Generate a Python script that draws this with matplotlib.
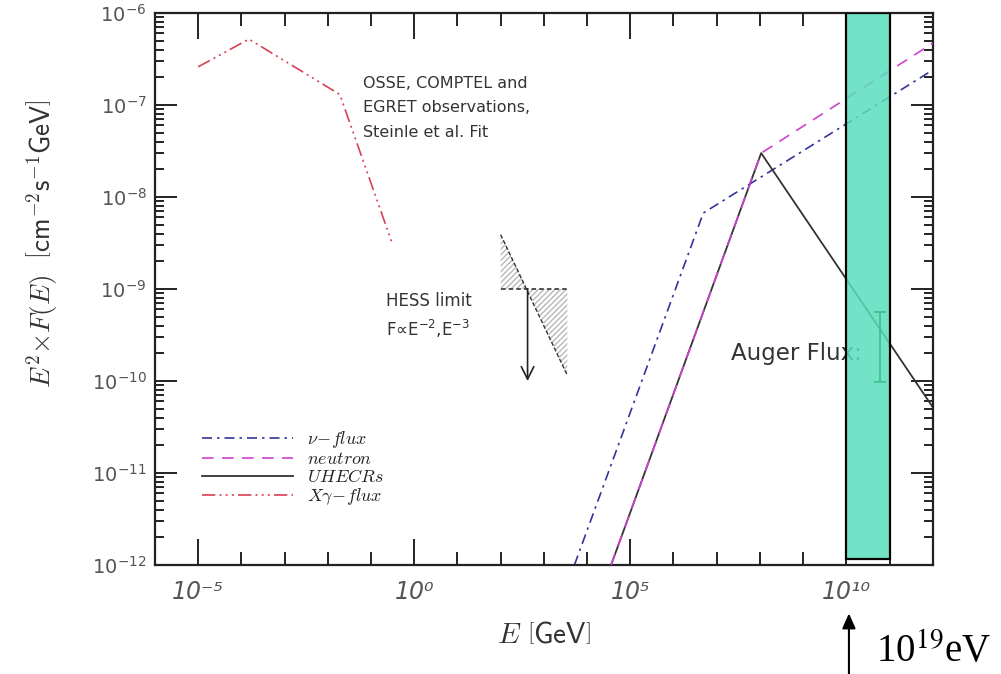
import numpy as np
import matplotlib.pyplot as plt
from matplotlib.ticker import FixedLocator, LogLocator, FuncFormatter, NullFormatter
from matplotlib.font_manager import FontProperties

# --- spectra (E in GeV, E^2 F(E) in cm^-2 s^-1 GeV) ---
xg_E = [1e-5, 1.5e-4, 1.9e-2, 0.32]
xg_F = [2.6e-7, 5.2e-7, 1.3e-7, 3e-9]

nu_E = [5.1e3, 4.9e6, 1e12]
nu_F = [1e-12, 6.7e-9, 2.4e-7]

n_E = [3.6e4, 1.07e8, 1e12]
n_F = [1e-12, 3e-8, 4.7e-7]

cr_E = [3.6e4, 1.07e8, 1e12]
cr_F = [1e-12, 3e-8, 5.2e-11]

# HESS limit wedge (F ~ E^-2 and E^-3)
hess_E = [100, 420, 3500]
hess_e2 = [1e-9, 1e-9, 1e-9]
hess_e3 = [3.9e-9, 1e-9, 1.15e-10]
hess_arrow = [1e-9, 1e-10]

# Auger band + flux point
band_E = [1e10, 1e11]
band_F = [1.17e-12, 1e-6]
auger_E = [6e10]
auger_lo = [9.8e-11]
auger_hi = [5.6e-10]

x_major = [1e-5, 1e0, 1e5, 1e10]
x_minor = [10.0 ** k for k in range(-6, 13)]

SUP = str.maketrans('-0123456789', '\u207b\u2070\u00b9\u00b2\u00b3\u2074\u2075\u2076\u2077\u2078\u2079')

fig = plt.figure(figsize=(10.01, 6.74), dpi=100)
ax = fig.add_axes([0.1548, 0.1617, 0.777, 0.819])
ax.set_xscale('log')
ax.set_yscale('log')
ax.set_xlim(1e-6, 1e12)
ax.set_ylim(1e-12, 1e-6)

ax.plot(nu_E, nu_F, color='#34349a', lw=1.2, ls=(0, (6, 3, 1.5, 3)), label=r'$\nu\!-\!flux$')
ax.plot(cr_E, cr_F, color='#333333', lw=1.3, zorder=2)
ax.plot(n_E, n_F, color='#d040d0', lw=1.2, ls=(0, (7, 5)), label=r'$neutron$', zorder=3)
ax.plot(cr_E[:1], cr_F[:1], color='#333333', lw=1.3, label=r'$UHECRs$')
ax.plot(xg_E, xg_F, color='#d94055', lw=1.2, ls=(0, (8, 2.5, 1.2, 2.5, 1.2, 2.5, 1.2, 2.5)),
        label=r'$X\gamma\!-\!flux$')

# HESS
ax.fill_between(hess_E, hess_e2, hess_e3, facecolor='none', edgecolor='#b8b8b8',
                hatch='//////', lw=0)
ax.plot([hess_E[0], hess_E[-1]], [hess_e2[0], hess_e2[-1]], color='#222', lw=1.1, ls=(0, (3, 2)))
ax.plot([hess_E[0], hess_E[-1]], [hess_e3[0], hess_e3[-1]], color='#333', lw=1.0, ls=(0, (3, 1.5)))
ax.annotate('', xy=(hess_E[1], hess_arrow[1]), xytext=(hess_E[1], hess_arrow[0]),
            arrowprops=dict(arrowstyle='->, head_length=0.9, head_width=0.45',
                            color='#222', lw=1.2, shrinkA=0, shrinkB=0))
ax.text(0.225, 5.1e-10, 'HESS limit\nF\u221dE$^{-2}$,E$^{-3}$', fontsize=12,
        color='#333', va='center', ha='left', linespacing=1.4)

ax.text(0.066, 9.3e-8, 'OSSE, COMPTEL and\nEGRET observations,\nSteinle et al. Fit',
        fontsize=11.5, color='#333', va='center', ha='left', linespacing=1.8)

ax.text(2.1e7, 2e-10, 'Auger Flux:', fontsize=16.5, color='#333', va='center', ha='left')

ax.fill_between(band_E, band_F[0], band_F[1], facecolor=(0.35, 0.87, 0.74), alpha=0.85,
                edgecolor='none', zorder=5)
ax.fill_between(band_E, band_F[0], band_F[1], facecolor='none', edgecolor='black',
                lw=1.6, zorder=6)
auger_mid = [np.sqrt(auger_lo[0] * auger_hi[0])]
ax.errorbar(auger_E, auger_mid,
            yerr=[[auger_mid[0] - auger_lo[0]], [auger_hi[0] - auger_mid[0]]],
            fmt='none', ecolor='#3cc088', elinewidth=1.2, capsize=4.5, capthick=1.2, zorder=7)

# ticks
ax.xaxis.set_major_locator(FixedLocator(x_major))
ax.xaxis.set_minor_locator(FixedLocator(x_minor))
ax.xaxis.set_major_formatter(FuncFormatter(
    lambda v, p: '10' + str(int(round(np.log10(v)))).translate(SUP)))
ax.xaxis.set_minor_formatter(NullFormatter())
ax.yaxis.set_major_locator(LogLocator(base=10, numticks=20))
ax.yaxis.set_minor_locator(LogLocator(base=10, subs=np.arange(2, 10), numticks=20))
ax.yaxis.set_minor_formatter(NullFormatter())
ax.tick_params(which='both', direction='in', top=True, right=True, width=1.4, color='#222')
ax.tick_params(axis='x', which='major', length=19, pad=11, labelsize=17, labelcolor='#555')
ax.tick_params(axis='x', which='minor', length=9.5)
ax.tick_params(axis='y', which='major', length=16, pad=6, labelsize=14, labelcolor='#555')
ax.tick_params(axis='y', which='minor', length=6.5)
for lab in ax.get_xticklabels():
    lab.set_fontstyle('italic')
for s in ax.spines.values():
    s.set_linewidth(1.6)
    s.set_color('#222')

ax.set_xlabel(r'$E\ \left[\mathsf{GeV}\right]$', fontsize=21, color='#333',
              math_fontfamily='cm', labelpad=12)
fig.text(0.042, 0.638, r'$E^2{\times}F(E)\ \ \left[\mathsf{cm}^{-2}\mathsf{s}^{-1}\mathsf{GeV}\right]$',
         rotation=90, fontsize=19.5, color='#333', ha='center', va='center', math_fontfamily='cm')

leg = ax.legend(loc='lower left', bbox_to_anchor=(0.04, 0.075), frameon=False,
                prop=FontProperties(size=13, math_fontfamily='cm'),
                handlelength=5.0, labelspacing=0.0, handletextpad=0.78)
for t in leg.get_texts():
    t.set_color('#222')

# 10^19 eV marker below the axis
ax.annotate('', xy=(1.15e10, 0.09), xytext=(1.15e10, 0.0), xycoords=('data', 'figure fraction'),
            textcoords=('data', 'figure fraction'), annotation_clip=False,
            arrowprops=dict(arrowstyle='-|>, head_length=0.9, head_width=0.4',
                            color='black', lw=1.5, shrinkA=0, shrinkB=0))
fig.text(0.99, 0.004, r'10$^{19}$eV', fontsize=28, family='Liberation Serif',
         math_fontfamily='stix', color='black', va='bottom', ha='right')

fig.savefig('out.png', dpi=100)
